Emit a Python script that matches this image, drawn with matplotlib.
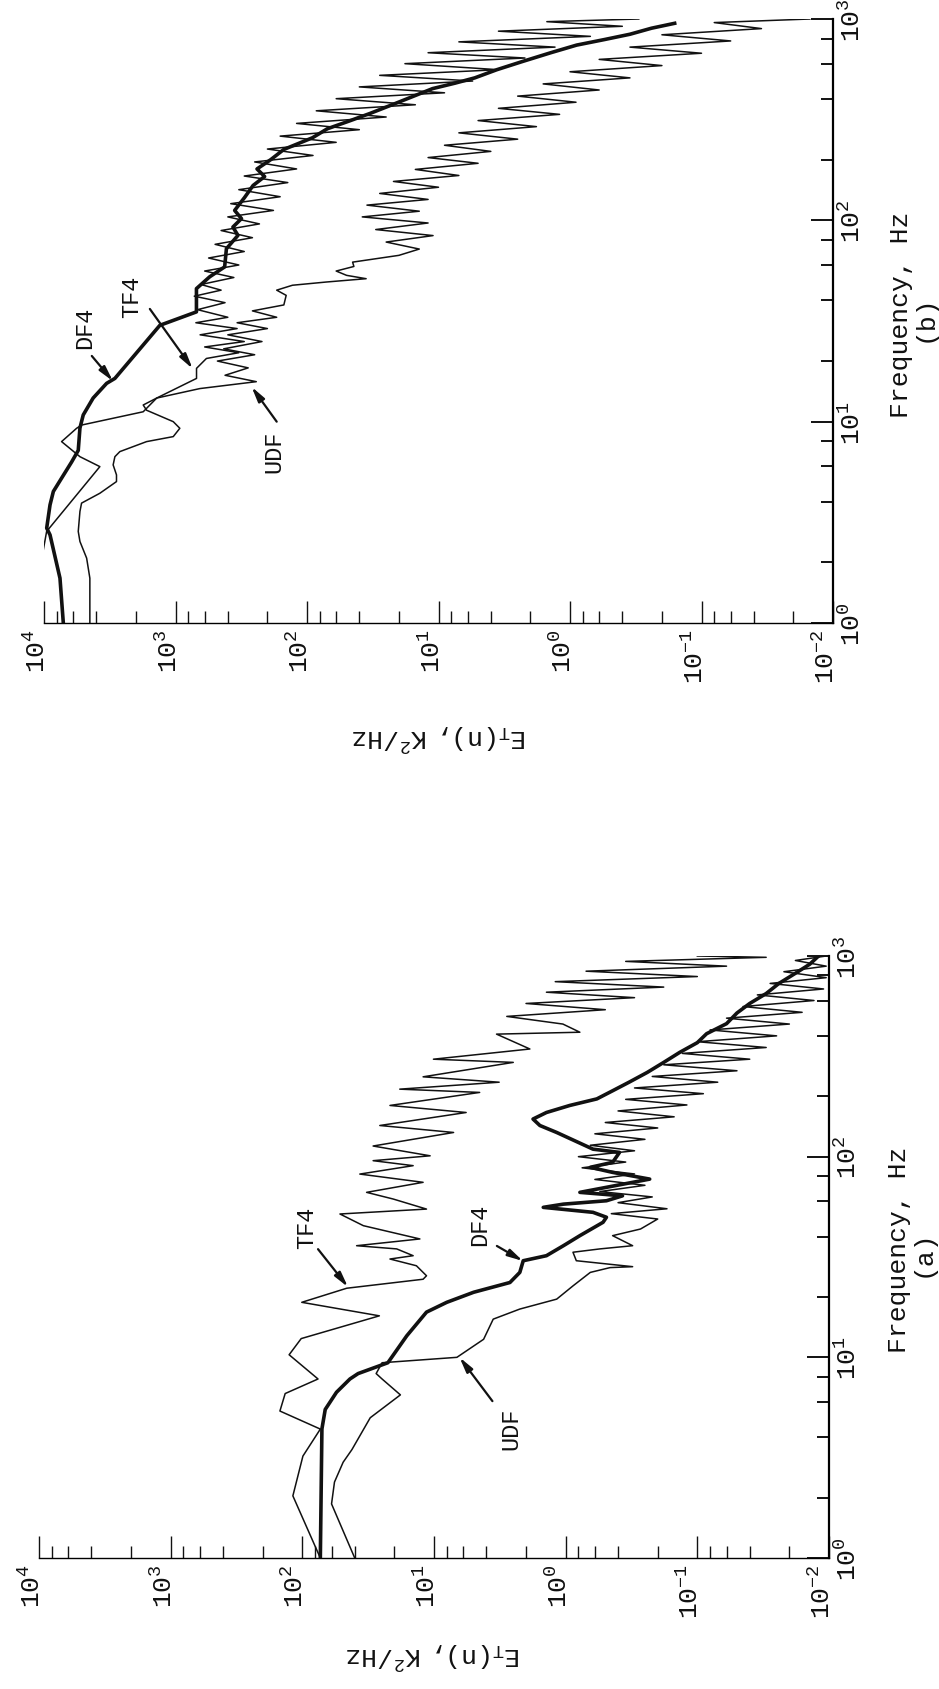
import matplotlib
matplotlib.use("Agg")
import matplotlib.pyplot as plt
from matplotlib.ticker import LogLocator, NullFormatter
from matplotlib.transforms import ScaledTranslation

# fonts: typewriter look of the scanned figure
plt.rcParams['font.family'] = ['Liberation Mono', 'DejaVu Sans']
plt.rcParams['mathtext.fontset'] = 'custom'
plt.rcParams['mathtext.rm'] = 'Liberation Mono'
plt.rcParams['mathtext.it'] = 'Liberation Mono'
plt.rcParams['mathtext.bf'] = 'Liberation Mono:bold'

# ---------------- data ---------------------------------------------------
et_ticks = [1e4, 1e3, 1e2, 1e1, 1e0, 1e-1, 1e-2]
et_exp = [4, 3, 2, 1, 0, -1, -2]
freq_ticks = [1, 10, 100, 1000]
freq_exp = [0, 1, 2, 3]

# panel (a)
a_df4_f = [1.0, 4.4, 5.5, 6.7, 7.8, 8.3, 9.4, 12.8, 16.8, 18.8, 21.1, 23.6, 26.5, 30.3,
           32.1, 36, 40.4, 47.1, 49.9, 52.8, 55.9, 58, 60.3, 63.8, 66.4, 77.3, 83.5, 88.5,
           93.7, 105, 109, 132, 143, 154, 166, 180, 194, 213, 235, 263, 295, 331, 370,
           410, 460, 520, 580, 650, 730, 820, 910, 1000]
a_df4_E = [73, 71, 67, 55, 43.5, 37.7, 22.4, 16.1, 11.4, 8.0, 5.0, 2.65, 2.23, 2.1,
           1.4, 1.04, 0.78, 0.52, 0.49, 0.62, 1.48, 1.04, 0.49, 0.37, 0.78, 0.23, 0.44, 0.65,
           0.44, 0.39, 0.62, 1.17, 1.57, 1.77, 1.4, 0.93, 0.58, 0.44, 0.33, 0.24, 0.18, 0.136, 0.10,
           0.085, 0.06, 0.05, 0.04, 0.03, 0.024, 0.018, 0.014, 0.012]

a_tf4_f = [1.0, 2.04, 3.22, 4.39, 5.4, 6.6, 7.8, 10.3, 12.4, 16.1, 18.8, 22.1, 24.5, 25.5,
           28.6, 30.9, 32.1, 34.7, 36, 38.9, 45.3, 51.8, 54.8, 61.5, 66.4, 74.5, 81.9, 90.2,
           95.5, 101, 113, 132, 143, 166, 180, 209, 217, 235, 250, 295, 306, 344, 408, 417,
           458, 500, 540, 580, 620, 660, 700, 745, 790, 840, 890, 940, 985, 1000]
a_tf4_E = [73, 118, 99, 73, 148, 135, 76, 126, 102, 26, 101, 46, 12.1, 11.4,
           13.6, 21.6, 14.4, 19.2, 38.7, 12.8, 34.4, 51.8, 11.4, 20.4, 32.5, 12.1, 36.6, 14.4,
           29, 10.7, 29, 7.1, 25.8, 5.7, 21.6, 4.5, 18.2, 3.2, 12.1, 2.5, 10.1, 1.87, 3.35, 0.78,
           1.05, 2.8, 0.5, 2.0, 0.3, 1.4, 0.18, 1.2, 0.1, 0.7, 0.06, 0.35, 0.03, 0.1]

a_udf_f = [1.0, 1.86, 2.39, 3.0, 3.47, 5.0, 6.5, 7.8, 8.3, 9.4, 10, 12.3, 15.5, 17.4,
           19.5, 22.7, 26.5, 28, 28.3, 30.3, 33.4, 34.7, 36, 40.4, 43.6, 48.9, 52, 55, 59,
           63, 67, 72, 77, 82, 88, 94, 100, 107, 114, 122, 130, 139, 148, 158, 169, 181,
           193, 206, 220, 235, 251, 268, 287, 306, 327, 350, 374, 400, 428, 458, 490, 524,
           560, 600, 640, 685, 730, 780, 835, 890, 950, 1000]
a_udf_E = [40, 60, 57, 49, 42, 30.5, 18, 24.8, 27.5, 24.8, 6.7, 4.2, 3.55, 2.23,
           1.17, 0.88, 0.65, 0.46, 0.31, 0.83, 0.88, 0.55, 0.31, 0.44, 0.27, 0.20, 0.45, 0.17, 0.40,
           0.22, 0.55, 0.25, 0.6, 0.3, 0.75, 0.35, 0.8, 0.3, 0.65, 0.25, 0.6, 0.2, 0.5, 0.15, 0.4, 0.12,
           0.35, 0.09, 0.3, 0.07, 0.22, 0.05, 0.18, 0.04, 0.13, 0.03, 0.1, 0.025, 0.08, 0.02, 0.06, 0.016,
           0.045, 0.013, 0.035, 0.011, 0.028, 0.0105, 0.022, 0.0105, 0.018, 0.0105]

# panel (b)
b_df4_f = [1.0, 1.67, 2.74, 2.96, 3.86, 4.5, 5.24, 6.3, 7.2, 9.3, 10.8, 13.1, 15.5, 16.4,
           30.1, 35.1, 45.8, 52.4, 58.7, 72.3, 84.2, 92.6, 102, 112, 130, 149, 165, 180,
           200, 225, 257, 285, 311, 340, 373, 410, 451, 480, 510, 560, 615, 680, 742, 790,
           840, 900, 952]
b_df4_E = [7130, 7560, 9000, 9540, 9000, 8490, 7350, 6170, 5490, 5330, 5030, 4230, 3340, 2890,
           1315, 693, 693, 550, 423, 410, 335, 366, 315, 355, 298, 257, 210, 240,
           189, 150, 91, 70, 48, 33, 23, 16, 11.1, 7.5, 5.3, 3.6, 2.3, 1.4, 0.89, 0.55,
           0.35, 0.24, 0.16]

b_tf4_f = [2.02, 2.85, 5.98, 6.7, 7.96, 9.27, 9.62, 11.2, 13.1, 16.4, 18.4, 20.6, 22, 23.5,
           25, 27, 29, 31, 33, 36, 39, 42, 45, 48, 52, 56, 60, 65, 70, 76, 82, 89, 96, 104,
           112, 121, 131, 142, 154, 166, 180, 195, 210, 226, 244, 262, 282, 303, 326, 350,
           375, 402, 430, 460, 492, 525, 560, 600, 640, 680, 725, 770, 820, 870, 920, 970, 1000]
b_tf4_E = [10500, 9550, 3760, 5330, 7350, 5650, 5180, 1760, 1390, 692, 692, 582, 330, 600,
           300, 650, 340, 700, 400, 680, 420, 720, 450, 640, 360, 600, 330, 560, 300, 500, 260, 450, 230, 400,
           180, 380, 160, 330, 140, 300, 120, 250, 90, 200, 60, 160, 40, 120, 25, 85,
           15, 60, 9, 40, 5.5, 28, 3.5, 18, 2.2, 12, 1.3, 7, 0.7, 3.5, 0.4, 1.5, 0.3]

b_udf_f = [1.0, 1.67, 2.1, 2.54, 2.85, 3.58, 3.94, 4.41, 5.04, 5.44, 6.1, 6.7, 7.1, 7.96,
           8.43, 9.27, 10, 11.4, 12.1, 13.1, 14.6, 15.8, 17, 18.5, 20, 21.5, 23, 25, 27, 29,
           31, 33, 35.5, 38, 42.4, 45, 47.6, 49.4, 51.3, 53.3, 56, 59, 62, 67, 72, 78, 84, 90,
           97, 104, 111, 119, 127, 136, 146, 156, 167, 179, 192, 205, 220, 236, 253, 272, 292,
           313, 336, 360, 386, 414, 444, 476, 510, 547, 587, 630, 676, 725, 778, 835, 896, 960, 1000]
b_udf_E = [4480, 4480, 4740, 5330, 5490, 5330, 5180, 3760, 2810, 2810, 2980, 2890, 2650, 1660,
           1040, 927, 1040, 1660, 1760, 1390, 653, 243, 420, 280, 480, 250, 430, 220, 400, 200,
           340, 170, 260, 150, 144, 170, 129, 71, 35.5, 50, 60, 44, 45, 20, 14, 25, 11, 30,
           12, 38, 14, 35, 12, 28, 10, 22, 7, 15, 5, 12, 4, 9, 2.5, 7, 1.8,
           5, 1.2, 3.5, 0.9, 2.5, 0.6, 1.6, 0.35, 1.0, 0.2, 0.6, 0.1, 0.35, 0.06, 0.2, 0.035, 0.08, 0.015]

INK = '#111111'
W, H = 939, 1690


def setup(ax, fig):
    ax.set_xscale('log')
    ax.set_yscale('log')
    ax.set_xlim(1e4, 1e-2)
    ax.set_ylim(1, 1e3)
    ax.spines['top'].set_visible(False)
    ax.spines['left'].set_visible(False)
    ax.spines['right'].set_linewidth(1.6)
    ax.spines['bottom'].set_linewidth(1.0)
    ax.yaxis.tick_right()

    ax.set_xticks(et_ticks)
    ax.set_xticklabels([r'$\mathregular{10^{%d}}$' % e for e in et_exp])
    ax.set_yticks(freq_ticks)
    ax.set_yticklabels([r'$\mathregular{10^{%d}}$' % e for e in freq_exp])
    ax.xaxis.set_minor_locator(LogLocator(base=10, subs=(2, 4, 6, 8), numticks=20))
    ax.yaxis.set_minor_locator(LogLocator(base=10, subs=(2, 4, 6, 8), numticks=20))
    ax.xaxis.set_minor_formatter(NullFormatter())
    ax.yaxis.set_minor_formatter(NullFormatter())

    ax.tick_params(axis='x', which='major', direction='in', length=16, width=1.0,
                   labelsize=19, pad=3.5, labelrotation=90, colors=INK)
    ax.tick_params(axis='x', which='minor', direction='in', length=9, width=1.0, colors=INK)
    ax.tick_params(axis='y', which='major', direction='in', length=16, width=1.4,
                   labelsize=19, pad=4, labelrotation=90, left=False, right=True,
                   labelleft=False, labelright=True, colors=INK)
    ax.tick_params(axis='y', which='minor', direction='in', length=9, width=1.4,
                   left=False, right=True, colors=INK)

    # the "10" sits on the tick, the exponent sticks out to one side
    dx = ScaledTranslation(-7 / 100, 0, fig.dpi_scale_trans)
    for lab in ax.get_xticklabels():
        lab.set_transform(lab.get_transform() + dx)
    for lab in ax.get_yticklabels():
        lab.set_va('center')


def arrow(ax, tip, tail):
    ax.annotate('', xy=tip, xytext=tail,
                arrowprops=dict(arrowstyle='-|>,head_length=0.9,head_width=0.22',
                                lw=1.6, color=INK, shrinkA=0, shrinkB=0))


fig = plt.figure(figsize=(W / 100, H / 100), dpi=100)
fig.patch.set_facecolor('white')

# panel (b) on top, panel (a) below (whole figure is turned on its side)
ax_b = fig.add_axes([44 / W, 1 - 624 / H, 789 / W, 604 / H])
ax_a = fig.add_axes([39 / W, 1 - 1559 / H, 790 / W, 602 / H])

for ax in (ax_a, ax_b):
    setup(ax, fig)

ax_a.plot(a_udf_E, a_udf_f, color=INK, lw=1.1)
ax_a.plot(a_tf4_E, a_tf4_f, color=INK, lw=1.1)
ax_a.plot(a_df4_E, a_df4_f, color=INK, lw=2.6)

ax_b.plot(b_udf_E, b_udf_f, color=INK, lw=1.1)
ax_b.plot(b_tf4_E, b_tf4_f, color=INK, lw=1.1)
ax_b.plot(b_df4_E, b_df4_f, color=INK, lw=2.6)

# curve labels with arrows
kw = dict(fontsize=17, rotation=90, ha='center', va='center', color=INK)
ax_a.text(92, 44.6, 'TF4', **kw)
arrow(ax_a, (45, 22.4), (76, 34.6))
ax_a.text(4.48, 46.1, 'DF4', **kw)
arrow(ax_a, (2.11, 30.2), (3.33, 35.9))
ax_a.text(2.6, 4.44, 'UDF', **kw)
arrow(ax_a, (6.4, 10.0), (3.6, 6.05))

ax_b.text(4890, 29.5, 'DF4', **kw)
arrow(ax_b, (2990, 15.9), (4330, 21.2))
ax_b.text(2150, 42.1, 'TF4', **kw)
arrow(ax_b, (740, 18.3), (1567, 36.3))
ax_b.text(180, 7.15, 'UDF', **kw)
arrow(ax_b, (264, 14.9), (170, 10.0))

# axis titles
et_label = r'$\mathregular{E_T(n),\ K^2/Hz}$'
fig.text(440 / W, 1 - 737 / H, et_label, fontsize=19, rotation=180,
         ha='center', va='center', color=INK)
fig.text(434 / W, 1 - 1655 / H, et_label, fontsize=19, rotation=180,
         ha='center', va='center', color=INK)
fig.text(901 / W, 1 - 315 / H, 'Frequency, Hz', fontsize=19, rotation=90,
         ha='center', va='center', color=INK)
fig.text(925 / W, 1 - 318 / H, '(b)', fontsize=19, rotation=90,
         ha='center', va='center', color=INK)
fig.text(899 / W, 1 - 1250 / H, 'Frequency, Hz', fontsize=19, rotation=90,
         ha='center', va='center', color=INK)
fig.text(923 / W, 1 - 1253 / H, '(a)', fontsize=19, rotation=90,
         ha='center', va='center', color=INK)

fig.savefig('out.png', dpi=100, facecolor='white')
